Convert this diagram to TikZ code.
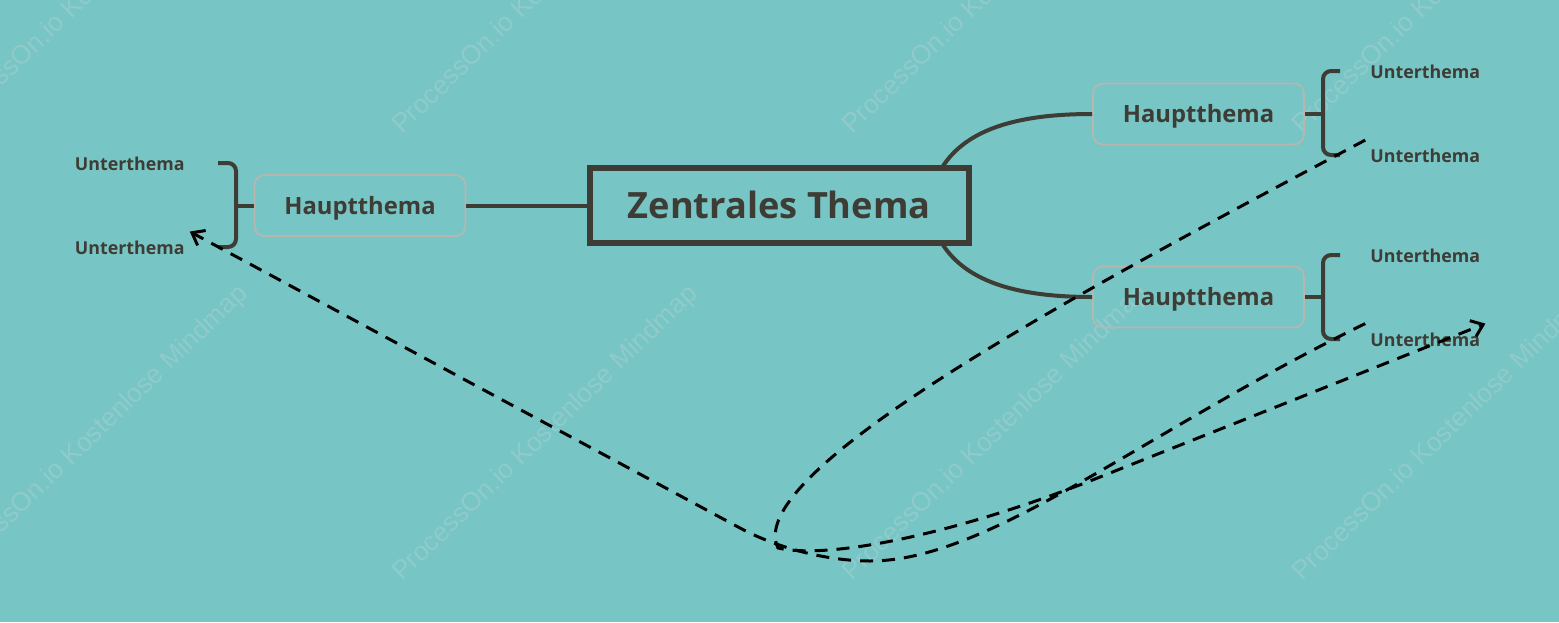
\documentclass[tikz,border=0pt]{standalone}
\usepackage{fontspec}
\setmainfont{Open Sans}
\newfontfamily\wmfont{Liberation Sans}
\usetikzlibrary{arrows.meta}
\definecolor{bg}{HTML}{78C5C5}
\definecolor{ink}{HTML}{3D3C35}
\definecolor{boxline}{HTML}{B9B6AE}
\definecolor{wm}{HTML}{8FCBCA}
\tikzset{
  wmark/.style={anchor=base west, rotate=44, inner sep=0pt, text=wm,
    font=\wmfont\fontsize{13.2pt}{14pt}\selectfont},
  central/.style={draw=ink, line width=3pt, minimum width=189.5pt, minimum height=37.5pt,
    inner sep=0pt, text=ink, text height=12.92pt, text depth=0pt,
    font=\bfseries\fontsize{18.1pt}{20pt}\selectfont},
  mainbox/.style={draw=boxline, line width=0.8pt, rounded corners=5pt, minimum width=105.5pt,
    minimum height=30.5pt, inner sep=0pt, text=ink, text height=8.5pt, text depth=0pt,
    font=\bfseries\fontsize{11.9pt}{13pt}\selectfont},
  subtopic/.style={minimum width=59.7pt, minimum height=16pt, inner sep=0pt, text=ink,
    text height=6.35pt, text depth=0pt, font=\bfseries\fontsize{8.9pt}{10pt}\selectfont},
  branch/.style={draw=ink, line width=2pt},
  bracket/.style={draw=ink, line width=2pt, rounded corners=4pt},
  link/.style={draw=black, line width=1.5pt, dash pattern=on 6.5pt off 4.5pt,
    -{Straight Barb[length=5.5pt,width=8.5pt]}}
}
\begin{document}
\begin{tikzpicture}[x=0.5pt,y=-0.5pt]
\fill[bg] (0,0) rectangle (1559,622);
\useasboundingbox (0,0) rectangle (1559,622);
% watermarks
\foreach \x in {-48,402,852,1302}
  \foreach \y in {135,582}
    \node[wmark] (wm\x-\y) at (\x,\y) {ProcessOn.io Kostenlose Mindmap};
% nodes
\node[central] (Z) at (779.2,205.5) {Zentrales Thema};
\node[mainbox] (LH) at (360,205.5) {Hauptthema};
\node[mainbox] (RT) at (1198.5,114) {Hauptthema};
\node[mainbox] (RB) at (1198.5,297) {Hauptthema};
\node[subtopic] (L1) at (129.7,164) {Unterthema};
\node[subtopic] (L2) at (129.7,248) {Unterthema};
\node[subtopic] (R1) at (1425.3,72) {Unterthema};
\node[subtopic] (R2) at (1425.3,156.5) {Unterthema};
\node[subtopic] (R3) at (1425.3,256) {Unterthema};
\node[subtopic] (R4) at (1425.3,340) {Unterthema};
% branch coordinates
\coordinate (zt) at (943,166);
\coordinate (zb) at (943,245);
\coordinate (lbt) at (218,163);
\coordinate (lbb) at (218,247);
\coordinate (lbm) at (236,205.5);
\coordinate (rtt) at (1340,71);
\coordinate (rtb) at (1340,155);
\coordinate (rtm) at (1323,114);
\coordinate (rbt) at (1340,255);
\coordinate (rbb) at (1340,339);
\coordinate (rbm) at (1323,297);
% branches
\draw[branch] (LH.east) -- (Z.west);
\draw[branch] (zt) .. controls (968,128) and (1020,114) .. (RT.west);
\draw[branch] (zb) .. controls (968,283) and (1020,297) .. (RB.west);
% brackets
\draw[bracket] (lbt) -- (236,163) -- (236,247) -- (lbb);
\draw[branch] (lbm) -- (LH.west);
\draw[bracket] (rtt) -- (1323,71) -- (1323,155) -- (rtb);
\draw[branch] (RT.east) -- (rtm);
\draw[bracket] (rbt) -- (1323,255) -- (1323,339) -- (rbb);
\draw[branch] (RB.east) -- (rbm);
% dashed links
\draw[link] (R2.north west) .. controls (1100,281) and (740,470) .. (778,548)
  .. controls (830,560) and (960,533) .. (1100,477) -- (R4.north east);
\draw[link] (R4.north west) .. controls (1145,431) and (990,561) .. (870,561)
  .. controls (830,561) and (780,549.5) .. (740,528) -- (L2.north east);
\end{tikzpicture}
\end{document}
